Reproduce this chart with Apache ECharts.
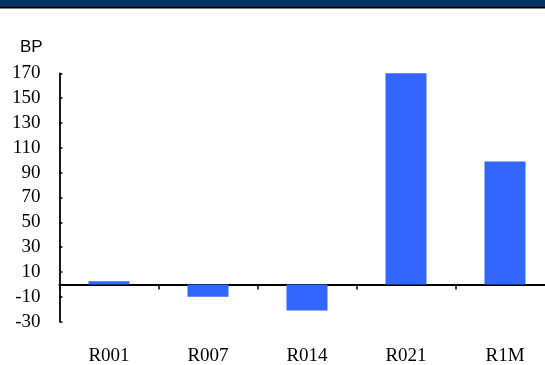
<!DOCTYPE html>
<html>
<head>
<meta charset="utf-8">
<script src="https://cdn.jsdelivr.net/npm/echarts@6/dist/echarts.min.js"></script>
<style>
  html, body { margin: 0; padding: 0; background: #fff; overflow: hidden; }
  #chart { width: 545px; height: 365px; }
</style>
</head>
<body>
<div id="chart"></div>
<script>
// Rate categories and their changes in basis points
const categories = ['R001', 'R007', 'R014', 'R021', 'R1M'];
const changeBP = [2.5, -10, -21, 170, 99];
// Value axis range and step (labels -30, -10, ..., 170)
const yMin = -30;
const yMax = 170;
const yStep = 20;
const unitLabel = 'BP';

const chart = echarts.init(document.getElementById('chart'));

const serif = '"Liberation Serif", "Times New Roman", serif';

chart.setOption({
  animation: false,
  backgroundColor: '#ffffff',
  grid: {
    left: 59.5, top: 73.3, width: 495, bottom: 43.3,
    containLabel: false, outerBoundsMode: 'none'
  },
  graphic: [
    { type: 'rect', shape: { x: 0, y: 0, width: 545, height: 6.4 }, style: { fill: '#003366' } },
    { type: 'rect', shape: { x: 0, y: 6.3, width: 545, height: 2.1 }, style: { fill: '#000000' } },
    {
      type: 'text', left: 20, top: 39,
      style: { text: unitLabel, fill: '#000', font: '17px "Liberation Sans", Arial, sans-serif' }
    }
  ],
  xAxis: {
    type: 'category',
    data: categories,
    axisLine: { onZero: true, lineStyle: { color: '#000', width: 2 } },
    axisTick: { show: true, inside: false, length: 5, lineStyle: { color: '#000', width: 1.5 } },
    axisLabel: { margin: 25, color: '#000', fontFamily: serif, fontSize: 19 },
    splitLine: { show: false }
  },
  yAxis: {
    type: 'value',
    min: yMin,
    max: yMax,
    interval: yStep,
    axisLine: { show: true, lineStyle: { color: '#000', width: 1.8 } },
    axisTick: { show: true, inside: true, length: 3, lineStyle: { color: '#000', width: 1.5 } },
    axisLabel: { margin: 19, color: '#000', fontFamily: serif, fontSize: 19, showMinLabel: true, showMaxLabel: true },
    splitLine: { show: false }
  },
  series: [{
    type: 'bar',
    data: changeBP,
    barWidth: 41,
    itemStyle: { color: '#3366FF' }
  }]
});
</script>
</body>
</html>
